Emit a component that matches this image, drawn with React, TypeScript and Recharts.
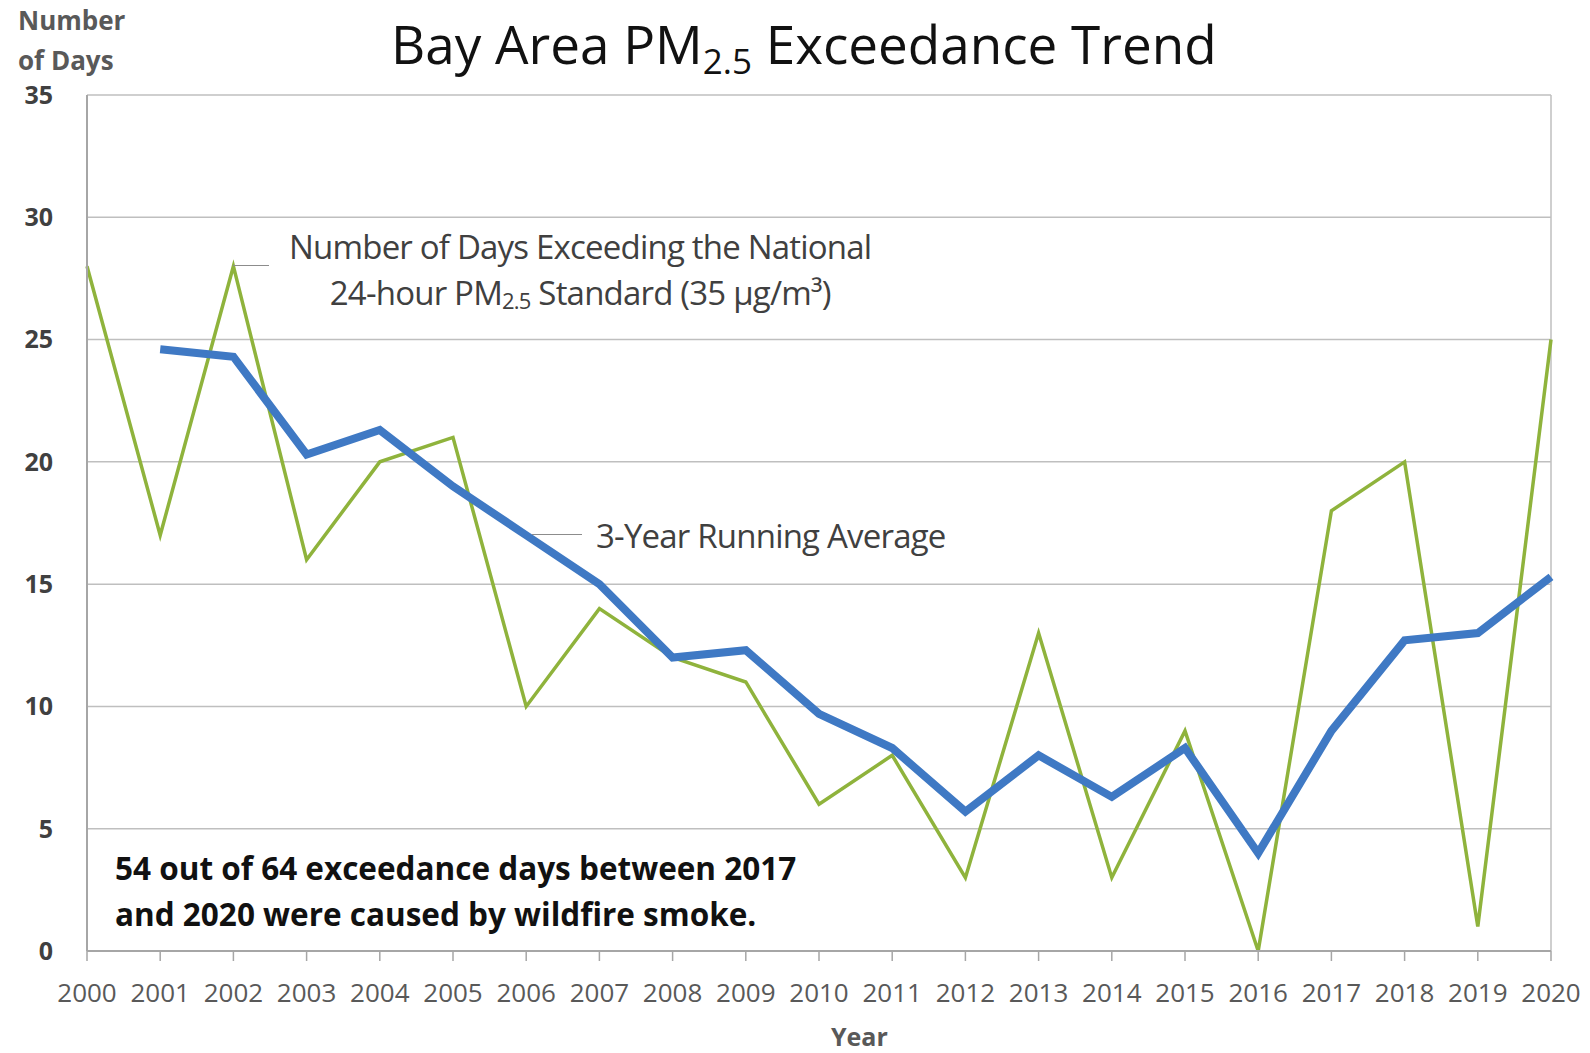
import React from 'react';
import { LineChart, Line, XAxis, YAxis, CartesianGrid, ReferenceLine } from 'recharts';

const years = ['2000', '2001', '2002', '2003', '2004', '2005', '2006', '2007', '2008', '2009', '2010',
  '2011', '2012', '2013', '2014', '2015', '2016', '2017', '2018', '2019', '2020'];
const exceedanceDays = [28, 17, 28, 16, 20, 21, 10, 14, 12, 11, 6, 8, 3, 13, 3, 9, 0, 18, 20, 1, 25];
const runningAverage = [null, 24.6, 24.3, 20.3, 21.3, 19, 17, 15, 12, 12.3, 9.7, 8.3, 5.7, 8, 6.3, 8.3, 4, 9, 12.7, 13, 15.3];
const yTicks = [0, 5, 10, 15, 20, 25, 30, 35];

const data = years.map((year, i) => ({ year, days: exceedanceDays[i], avg: runningAverage[i] }));

const FONT = '"Open Sans", "DejaVu Sans", sans-serif';
const GRID = '#bfbfbf';

const abs = (left: number, top: number): React.CSSProperties => ({ position: 'absolute', left, top, whiteSpace: 'nowrap' });

export default function App() {
  return (
    <div style={{ position: 'absolute', left: 0, top: 0, width: 1590, height: 1053, background: '#fff', fontFamily: FONT }}>
      <LineChart width={1590} height={1053} data={data} margin={{ top: 95, right: 39, bottom: 42, left: 0 }}>
        <CartesianGrid vertical={false} stroke={GRID} strokeWidth={1.5} />
        <XAxis
          dataKey="year"
          height={60}
          tick={{ fontSize: 26, fill: '#595959', fontFamily: FONT }}
          tickMargin={23}
          tickSize={10}
          axisLine={{ stroke: '#a6a6a6', strokeWidth: 2 }}
          tickLine={{ stroke: '#a6a6a6', strokeWidth: 1.5 }}
          interval={0}
        />
        <YAxis
          width={87}
          domain={[0, 35]}
          ticks={yTicks}
          tick={{ fontSize: 25, fill: '#404040', fontWeight: 700, fontFamily: FONT }}
          tickLine={false}
          tickMargin={28}
          axisLine={{ stroke: '#a6a6a6', strokeWidth: 2 }}
        />
        <ReferenceLine x="2020" stroke={GRID} strokeWidth={1.5} />
        <Line type="linear" dataKey="days" stroke="#8fb33c" strokeWidth={3.5} dot={false} isAnimationActive={false} />
        <Line type="linear" dataKey="avg" stroke="#3f79c4" strokeWidth={8} dot={false} connectNulls={false} isAnimationActive={false} />
      </LineChart>

      <div style={{ ...abs(18, 0), fontSize: 26, fontWeight: 700, color: '#595959', lineHeight: '40px' }}>
        Number<br />of Days
      </div>
      <div style={{ ...abs(391, 6), fontSize: 53, color: '#111', lineHeight: '76px' }}>
        Bay Area PM<sub style={{ fontSize: 35, verticalAlign: '-10px' }}>2.5</sub> Exceedance Trend
      </div>

      <div style={{ ...abs(233, 265), width: 36, height: 0, borderTop: '1.5px solid #8c8c8c' }} />
      <div style={{ ...abs(289, 224), fontSize: 33, color: '#404040', lineHeight: '46px', letterSpacing: -0.8, textAlign: 'center' }}>
        Number of Days Exceeding the National<br />
        24-hour PM<sub style={{ fontSize: 22, verticalAlign: '-4px' }}>2.5</sub> Standard (35 µg/m³)
      </div>

      <div style={{ ...abs(532, 534), width: 50, height: 0, borderTop: '1.5px solid #8c8c8c' }} />
      <div style={{ ...abs(596, 513), fontSize: 33, color: '#404040', lineHeight: '46px', letterSpacing: -0.8 }}>
        3-Year Running Average
      </div>

      <div style={{ ...abs(115, 845), fontSize: 31.5, fontWeight: 700, color: '#111', lineHeight: '46px' }}>
        54 out of 64 exceedance days between 2017<br />and 2020 were caused by wildfire smoke.
      </div>

      <div style={{ ...abs(831, 1019), fontSize: 25, fontWeight: 700, color: '#595959' }}>Year</div>
    </div>
  );
}
